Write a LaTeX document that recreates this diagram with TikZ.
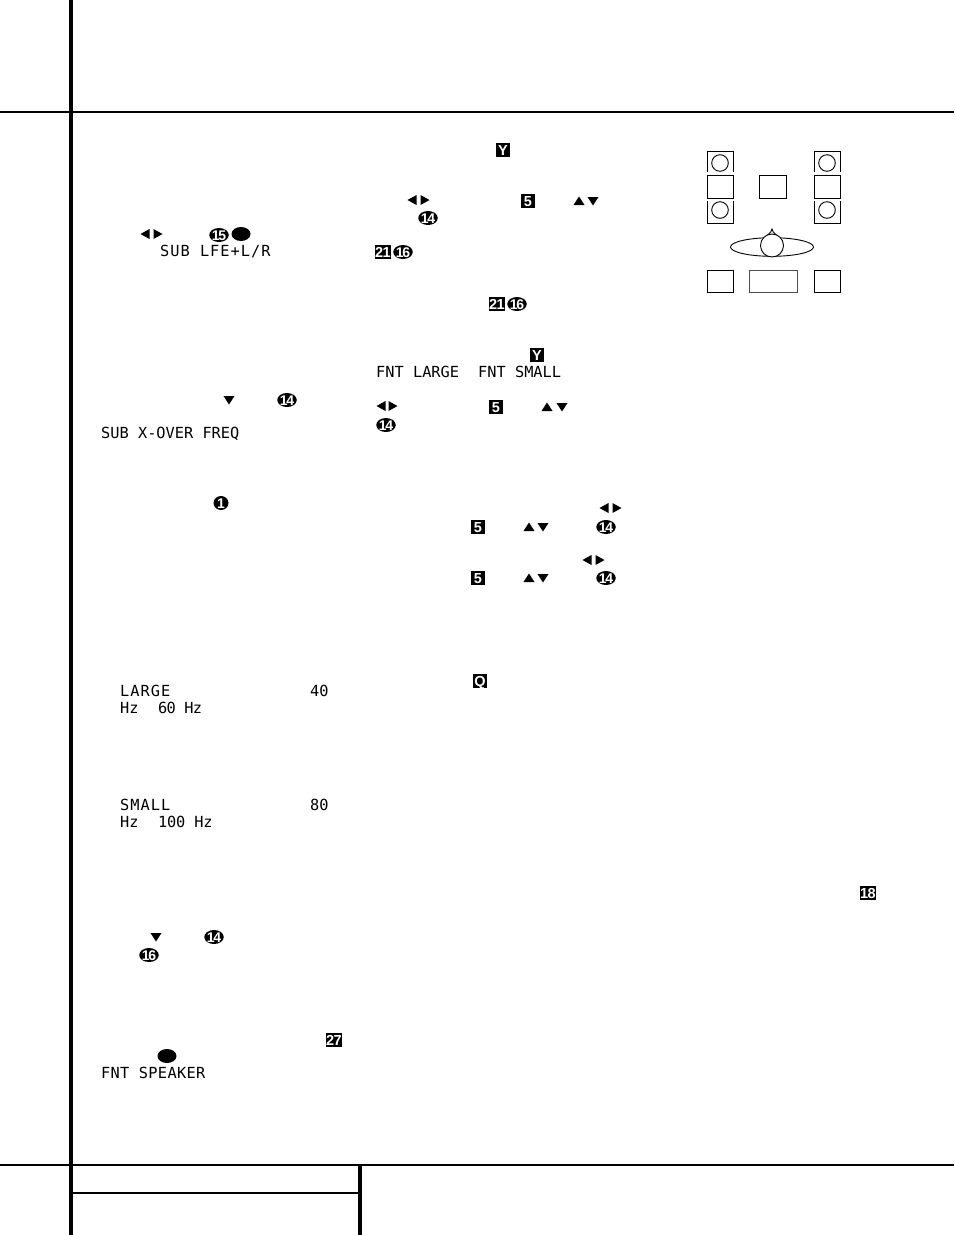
\documentclass[tikz,border=0pt]{standalone}
\usepackage{fontspec}
\setmainfont{Liberation Sans}
\newfontfamily\lcdfont{DejaVu Sans Mono}
\tikzset{
  x=1pt,y=-1pt,
  lcd/.style={anchor=base west,inner sep=0pt,font=\lcdfont\fontsize{15.3}{15.3}\selectfont},
  keybox/.style={fill=black,text=white,rectangle,inner sep=0pt,minimum height=13.8pt,text height=10.2pt,text depth=0pt,font=\bfseries\fontsize{14.5}{14.5}\selectfont},
  keyoval/.style={fill=black,text=white,ellipse,inner sep=-3pt,minimum width=19.5pt,minimum height=14pt,text height=10pt,text depth=0pt,font=\bfseries\fontsize{14}{14}\selectfont},
  rule/.style={line width=2pt,line cap=butt},
  heavy/.style={line width=4.2pt,line cap=butt},
  room/.style={draw=black,line width=0.9pt},
  roomfill/.style={draw=black,line width=0.9pt,fill=white}
}
\usetikzlibrary{shapes.geometric}
\newcommand{\sqk}[5][14.6pt]{\node[keybox,minimum width=#1] (#2) at (#3,#4) {\addfontfeature{LetterSpace=-4}#5};}
\newcommand{\ovk}[4]{\node[keyoval] (#1) at (#2,#3) {\addfontfeature{LetterSpace=-8}#4};}
\newcommand{\lcdt}[2]{\addfontfeature{LetterSpace=#1}#2}
\newcommand{\triL}[2]{\fill (#1+4.5,#2-5) -- (#1+4.5,#2+5) -- (#1-4.5,#2) -- cycle;}
\newcommand{\triR}[2]{\fill (#1-4.5,#2-5) -- (#1-4.5,#2+5) -- (#1+4.5,#2) -- cycle;}
\newcommand{\triU}[2]{\fill (#1-5.5,#2+4) -- (#1+5.5,#2+4) -- (#1,#2-4.5) -- cycle;}
\newcommand{\triD}[2]{\fill (#1-5.5,#2-4) -- (#1+5.5,#2-4) -- (#1,#2+4.5) -- cycle;}
\begin{document}
\begin{tikzpicture}
\useasboundingbox (0,0) rectangle (954,1235);
% page rules
\draw[rule] (0,112) -- (954,112);
\draw[rule] (0,1165) -- (954,1165);
\draw[rule] (71,1193) -- (360,1193);
\draw[heavy] (71,0) -- (71,1235);
\draw[heavy] (360,1165) -- (360,1235);
% left column
\triL{145}{234}\triR{158}{234}
\ovk{a15}{219}{235}{15}
\node[keyoval,minimum width=19pt] (blankA) at (241,234) {};
\node[lcd] (subl) at (160,256) {\lcdt{6.5}{SUB LFE+L/R}};
\triD{229}{400}
\ovk{a14}{287}{400}{14}
\node[lcd] (xover) at (101,438) {SUB X-OVER FREQ};
\node[keyoval,minimum width=15pt] (a1) at (221,503) {1};
\node[lcd] (large) at (120,696) {\lcdt{6.5}{LARGE}};
\node[lcd] (n40) at (310,696) {40};
\node[lcd] (hzA) at (120,713) {Hz};
\node[lcd] (hzB) at (158,713) {\lcdt{-5}{60 Hz}};
\node[lcd] (small) at (120,810) {\lcdt{6.5}{SMALL}};
\node[lcd] (n80) at (310,810) {80};
\node[lcd] (hzC) at (120,827) {Hz};
\node[lcd] (hzD) at (158,827) {\lcdt{-1.3}{100 Hz}};
\triD{156}{937}
\ovk{b14}{214}{937}{14}
\ovk{b16}{149}{955}{16}
\sqk[16pt]{k27}{334}{1040}{27}
\node[keyoval,minimum width=19pt] (blankB) at (167,1056) {};
\node[lcd] (spk) at (101,1078) {\lcdt{2}{FNT SPEAKER}};
% middle column
\sqk{yA}{503}{150}{Y}
\triL{412}{200}\triR{425}{200}
\sqk{fiveA}{528}{201}{5}
\triU{579}{201}\triD{593}{201}
\ovk{c14}{428}{218}{14}
\sqk[16pt]{kA}{383}{252}{21}
\ovk{c16}{403}{252}{16}
\sqk[16pt]{kB}{497}{304}{21}
\ovk{d16}{517}{304}{16}
\sqk{yB}{537}{355}{Y}
\node[lcd] (fl) at (376,377) {FNT LARGE};
\node[lcd] (fs) at (478,377) {FNT SMALL};
\triL{381}{406}\triR{393}{406}
\sqk{fiveB}{496}{407}{5}
\triU{547}{407}\triD{562}{407}
\ovk{d14}{386}{425}{14}
\triL{604}{508}\triR{617}{508}
\sqk{fiveC}{478}{527}{5}
\triU{529}{527}\triD{543}{527}
\ovk{e14}{606}{527}{14}
\triL{587}{560}\triR{600}{560}
\sqk{fiveD}{478}{578}{5}
\triU{529}{578}\triD{543}{578}
\ovk{f14}{606}{578}{14}
\sqk{qk}{480}{681}{Q}
\sqk[16pt]{k18}{868}{893}{18}
% room diagram
\foreach \xa/\xb/\cx in {707/733/720,814/840/827}{
  \draw[room] (\xa,172) -- (\xa,151) -- (\xb,151) -- (\xb,172);
  \draw[room] (\cx,163) circle[radius=8.3];
  \draw[room] (\xa,175) rectangle (\xb,198);
  \draw[room] (\xa,201) -- (\xa,223) -- (\xb,223) -- (\xb,201);
  \draw[room] (\cx,210) circle[radius=8.3];
  \draw[room] (\xa,270) rectangle (\xb,292);
}
\draw[room] (759,175) rectangle (786,198);
\draw[room,draw=black!70] (749,270) rectangle (797,292);
\draw[room] (772,247) ellipse[x radius=41.5,y radius=9.3];
\draw[roomfill] (767.5,235) .. controls (770.5,233.5) and (771.5,231) .. (772,229) .. controls (772.5,231) and (773.5,233.5) .. (776.5,235) -- cycle;
\draw[roomfill] (772,245.5) circle[radius=11.5];
\end{tikzpicture}
\end{document}
